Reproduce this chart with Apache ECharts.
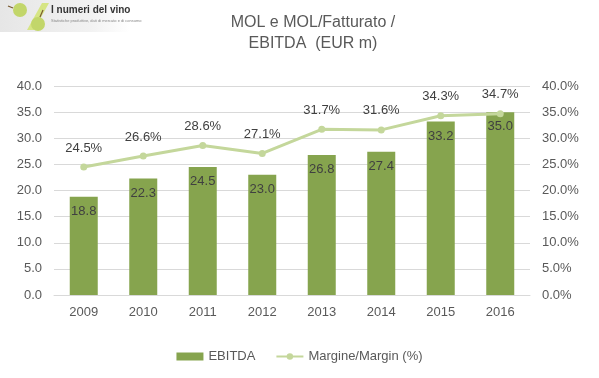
<!DOCTYPE html>
<html>
<head>
<meta charset="utf-8">
<script src="https://cdn.jsdelivr.net/npm/echarts@6/dist/echarts.min.js"></script>
<style>html,body{margin:0;padding:0;background:#fff}#c{width:599px;height:378px}</style>
</head>
<body>
<div id="c"></div>
<script>
var years = ['2009','2010','2011','2012','2013','2014','2015','2016'];
var ebitda = [18.8, 22.3, 24.5, 23.0, 26.8, 27.4, 33.2, 35.0];
var margin = [24.5, 26.6, 28.6, 27.1, 31.7, 31.6, 34.3, 34.7];
var leftTicks = {min: 0, max: 40, interval: 5};
var rightTicks = {min: 0, max: 40, interval: 5};
var titleLines = ['MOL e MOL/Fatturato /', 'EBITDA  (EUR m)'];
var seriesNames = ['EBITDA', 'Margine/Margin (%)'];

var FONT = '"Liberation Sans Narrow", "Liberation Sans", Arial, sans-serif';
var TXT = '#595959';
var chart = echarts.init(document.getElementById('c'), null, {renderer: 'canvas'});
chart.setOption({
  animation: false,
  title: {
    text: titleLines.join('\n'),
    left: 308, top: 7, textAlign: 'center',
    textStyle: {fontFamily: FONT, fontSize: 16, fontWeight: 'normal', color: TXT, lineHeight: 21}
  },
  graphic: [
    {type: 'rect', left: 0, top: 0, shape: {width: 130, height: 32}, style: {fill: new echarts.graphic.LinearGradient(0,0,1,0,[{offset:0,color:'#e6e6e6'},{offset:0.7,color:'#f2f2f2'},{offset:1,color:'#ffffff'}])}, z: 0},
    {type: 'polygon', shape: {points: [[34,30],[27,30],[42,3],[49,3]]}, style: {fill: '#d6e584'}, z: 1},
    {type: 'circle', shape: {cx: 20, cy: 10, r: 7}, style: {fill: '#c2d66a'}, z: 2},
    {type: 'circle', shape: {cx: 38, cy: 24, r: 7}, style: {fill: '#c2d66a'}, z: 2},
    {type: 'line', shape: {x1: 40, y1: 17, x2: 43, y2: 10}, style: {stroke: '#7a5a30', lineWidth: 1.2}, z: 3},
    {type: 'line', shape: {x1: 13, y1: 8, x2: 8, y2: 6}, style: {stroke: '#7a5a30', lineWidth: 1.2}, z: 3},
    {type: 'text', left: 51, top: 5, style: {text: 'I numeri del vino', font: 'bold 10px "Liberation Sans Narrow", Arial', fill: '#333'}, z: 3},
    {type: 'text', left: 51, top: 19, style: {text: 'Statistiche produttive, dati di mercato e di consumo', font: '4px Arial', fill: '#888'}, z: 3}
  ],
  grid: {left: 54, right: 69, top: 86, bottom: 83, containLabel: false},
  legend: {
    bottom: 10, left: 'center', itemGap: 20, itemWidth: 27, itemHeight: 8,
    textStyle: {fontFamily: FONT, fontSize: 13, color: TXT},
    data: [
      {name: seriesNames[0], icon: 'rect'},
      {name: seriesNames[1]}
    ]
  },
  xAxis: {
    type: 'category', data: years,
    axisLine: {lineStyle: {color: '#d9d9d9'}},
    axisTick: {show: false},
    axisLabel: {fontFamily: FONT, fontSize: 13, color: TXT, margin: 11}
  },
  yAxis: [
    {
      type: 'value', min: leftTicks.min, max: leftTicks.max, interval: leftTicks.interval,
      axisLine: {show: false}, axisTick: {show: false},
      splitLine: {lineStyle: {color: '#d9d9d9'}},
      axisLabel: {fontFamily: FONT, fontSize: 13, color: TXT, margin: 12, formatter: function(v){return v.toFixed(1);}}
    },
    {
      type: 'value', min: rightTicks.min, max: rightTicks.max, interval: rightTicks.interval,
      axisLine: {show: false}, axisTick: {show: false}, splitLine: {show: false},
      axisLabel: {fontFamily: FONT, fontSize: 13, color: TXT, margin: 12, formatter: function(v){return v.toFixed(1) + '%';}}
    }
  ],
  series: [
    {
      name: seriesNames[0], type: 'bar', data: ebitda, barWidth: 28, yAxisIndex: 0,
      itemStyle: {color: '#86a44e'},
      label: {show: true, position: 'insideTop', distance: 8, fontFamily: FONT, fontSize: 13, color: '#404040', formatter: function(p){return p.value.toFixed(1);}}
    },
    {
      name: seriesNames[1], type: 'line', data: margin, yAxisIndex: 1,
      symbol: 'circle', symbolSize: 7,
      lineStyle: {color: '#c4d79b', width: 3},
      itemStyle: {color: '#c4d79b'},
      label: {show: true, position: 'top', distance: 9, fontFamily: FONT, fontSize: 13, color: '#404040', formatter: function(p){return p.value.toFixed(1) + '%';}},
      z: 5
    }
  ]
});
</script>
</body>
</html>
